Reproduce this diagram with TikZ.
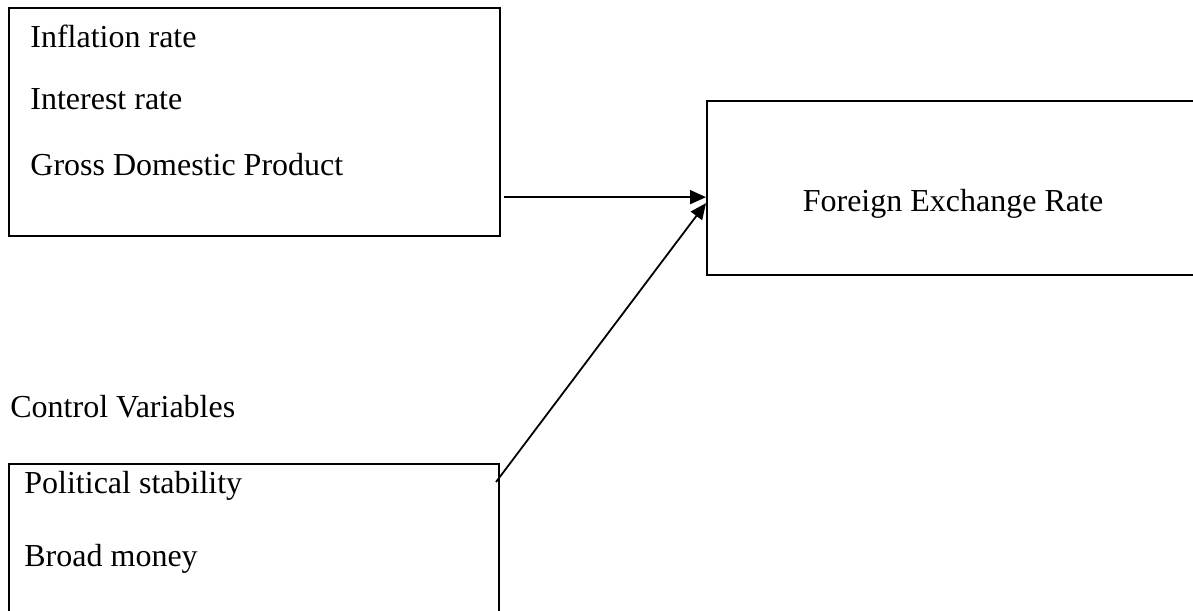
\documentclass[tikz,border=0pt]{standalone}
\usepackage{fontspec}
\setmainfont{Liberation Serif}
\usetikzlibrary{arrows.meta,calc}
\begin{document}
\begin{tikzpicture}[x=0.5pt,y=-0.5pt,
  box/.style={draw=black,line width=1pt,rectangle,inner sep=0pt},
  lbl/.style={inner sep=0pt,anchor=base west,font=\fontsize{16}{19}\selectfont},
  conn/.style={draw=black,line width=0.9pt,-{Triangle[length=8pt,width=7pt]}}]
\useasboundingbox (0,0) rectangle (1193,610);
\clip (0,0) rectangle (1193,610);
% boxes
\node[box,minimum width=245.5pt,minimum height=114pt] (drivers) at (254.5,122) {};
\node[box,minimum width=280pt,minimum height=87pt] (fx) at (987,188) {};
\node[box,minimum width=245pt,minimum height=100pt] (ctrl) at (254,564) {};
% texts
\node[lbl] (t1) at (30,48) {Inflation rate};
\node[lbl] (t2) at (30,110) {Interest rate};
\node[lbl] (t3) at (30,175) {Gross Domestic Product};
\node[lbl,anchor=base] (tfx) at (953,211) {Foreign Exchange Rate};
\node[lbl] (tcv) at (10,417) {Control Variables};
\node[lbl] (t4) at (24,493) {Political stability};
\node[lbl] (t5) at (24,566) {Broad money};
% connector end points
\coordinate (tipA) at ($(fx.north west)!0.552!(fx.south west)$);
\coordinate (tipB) at ($(fx.north west)!0.586!(fx.south west)$);
\coordinate (startA) at ($(drivers.east |- tipA)+(3,0)$);
\coordinate (startB) at ($(ctrl.north east)+(-4,19)$);
\draw[conn] (startA) -- (tipA);
\draw[conn] (startB) -- (tipB);
\end{tikzpicture}
\end{document}
